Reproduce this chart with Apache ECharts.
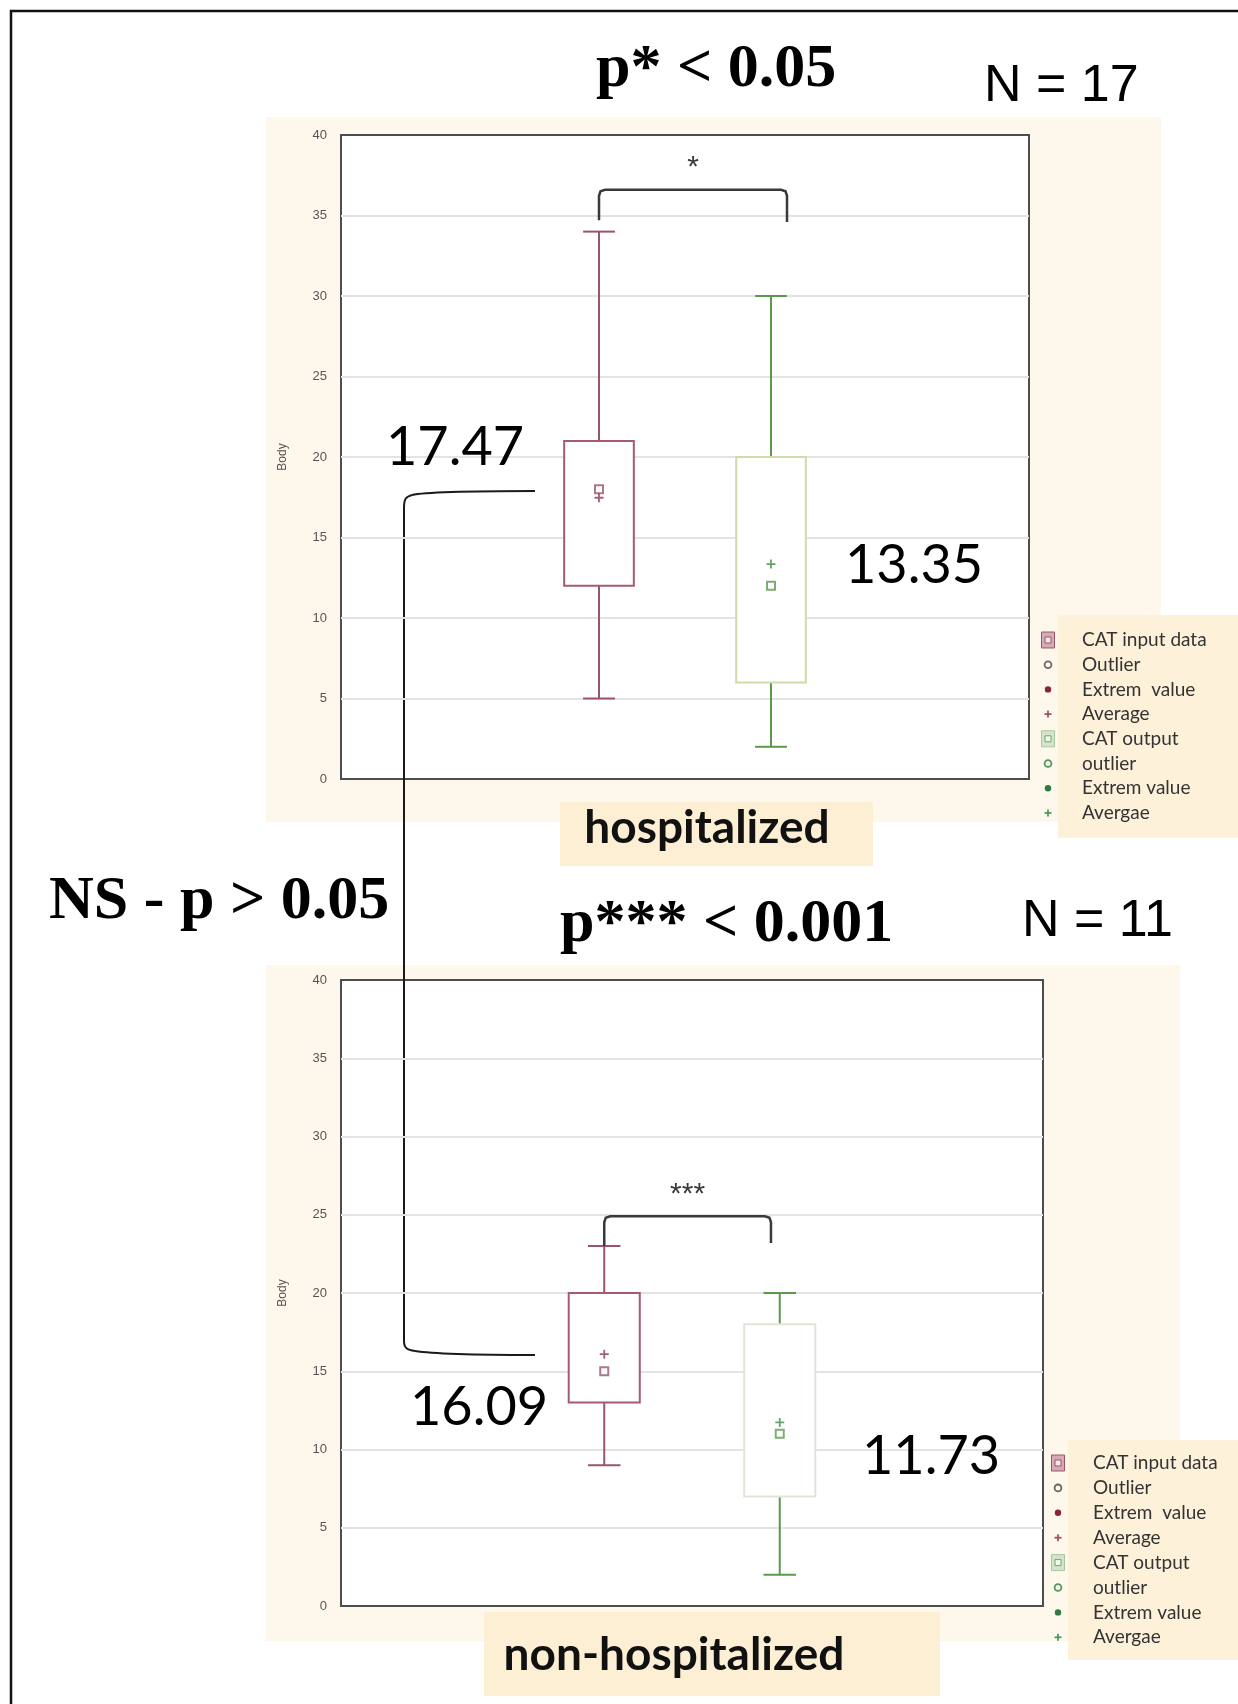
<!DOCTYPE html>
<html><head><meta charset="utf-8">
<script src="https://cdn.jsdelivr.net/npm/echarts@6/dist/echarts.min.js"></script>
<style>html,body{margin:0;padding:0;background:#fff}#c{width:1238px;height:1704px}</style>
</head><body><div id="c"></div>
<script>
// ---------- data ----------
const categories = ['', 'CAT input', 'CAT output', ''];
const yTickStep = 5;
// [categoryIndex, min, Q1, median, Q3, max]
const hospInput = [1, 5, 12, 18, 21, 34];
const hospOutput = [2, 2, 6, 12, 20, 30];
const hospMeans = [17.47, 13.35];
const nonhospInput = [1, 9, 13, 15, 20, 23];
const nonhospOutput = [2, 2, 7, 11, 18, 20];
const nonhospMeans = [16.09, 11.73];
// [fromCategory, toCategory, leftLegValue, topValue, rightLegValue]
const hospBracket = [1, 2, 34.7, 36.6, 34.6];
const nonhospBracket = [1, 2, 23.0, 24.9, 23.2];
const hospStars = '*';
const nonhospStars = '***';
const legendLabels = ['CAT input data', 'Outlier', 'Extrem  value', 'Average', 'CAT output', 'outlier', 'Extrem value', 'Avergae'];

// ---------- styles ----------
const MAROON = '#9a5566', MAROON_BOX = '#a45c6c';
const GREEN = '#5b9a4c';
const SANS = 'Lato, "Open Sans", sans-serif';
const SERIF = '"Liberation Serif", "DejaVu Serif", serif';

const chart = echarts.init(document.getElementById('c'));

function boxSeries(gi, item, whisk, boxStroke) {
  return {
    type: 'custom', xAxisIndex: gi, yAxisIndex: gi, z: 3,
    data: [item],
    encode: { x: 0, y: [1, 2, 3, 4, 5] },
    renderItem: (p, api) => {
      const x = api.value(0);
      const lo = api.coord([x, api.value(1)]);
      const q1 = api.coord([x, api.value(2)]);
      const q3 = api.coord([x, api.value(4)]);
      const hi = api.coord([x, api.value(5)]);
      const cx = lo[0];
      const band = api.size([1, 0])[0];
      const bw = band * 0.405, cw = band * 0.185;
      const ls = { stroke: whisk, lineWidth: 2 };
      return { type: 'group', children: [
        { type: 'line', shape: { x1: cx, y1: hi[1], x2: cx, y2: q3[1] }, style: ls },
        { type: 'line', shape: { x1: cx, y1: q1[1], x2: cx, y2: lo[1] }, style: ls },
        { type: 'line', shape: { x1: cx - cw / 2, y1: hi[1], x2: cx + cw / 2, y2: hi[1] }, style: ls },
        { type: 'line', shape: { x1: cx - cw / 2, y1: lo[1], x2: cx + cw / 2, y2: lo[1] }, style: ls },
        { type: 'rect', shape: { x: cx - bw / 2, y: q3[1], width: bw, height: q1[1] - q3[1] },
          style: { fill: '#fff', stroke: boxStroke, lineWidth: 2 } }
      ]};
    }
  };
}

function bracketSeries(gi, br, rightOffset, stars, starGap) {
  return {
    type: 'custom', xAxisIndex: gi, yAxisIndex: gi, z: 4,
    data: [br],
    renderItem: (p, api) => {
      const band = api.size([1, 0])[0];
      const a = api.coord([api.value(0), api.value(2)]);
      const t = api.coord([api.value(0), api.value(3)]);
      const b0 = api.coord([api.value(1), api.value(4)]);
      const x1 = a[0], x2 = b0[0] + rightOffset * band, yt = t[1];
      const r = 6;
      return { type: 'group', children: [
        { type: 'polyline', shape: { points: [[x1, a[1]], [x1, yt + r], [x1 + 1.5, yt + 1.5], [x1 + r, yt], [x2 - r, yt], [x2 - 1.5, yt + 1.5], [x2, yt + r], [x2, b0[1]]] },
          style: { stroke: '#3a3a3a', lineWidth: 2.5, fill: null } },
        { type: 'text', x: (x1 + x2) / 2, y: yt - starGap,
          style: { text: stars, fontSize: 30, fontFamily: '"Liberation Sans", sans-serif', fill: '#3a3a3a', align: 'center', verticalAlign: 'middle' } }
      ]};
    }
  };
}

const plusPath = 'path://M3.2,0H4.8V3.2H8V4.8H4.8V8H3.2V4.8H0V3.2H3.2Z';
function markerSeries(gi, inp, out, means) {
  return [
    { type: 'scatter', xAxisIndex: gi, yAxisIndex: gi, z: 5, symbol: 'rect', symbolSize: 8,
      data: [
        { value: [inp[0], inp[3]], itemStyle: { color: '#fff', borderColor: MAROON, borderWidth: 2 } },
        { value: [out[0], out[3]], itemStyle: { color: '#fff', borderColor: GREEN, borderWidth: 2 } }
      ] },
    { type: 'scatter', xAxisIndex: gi, yAxisIndex: gi, z: 6, symbol: plusPath, symbolSize: 9,
      data: [
        { value: [inp[0], means[0]], itemStyle: { color: '#8a3a4c' } },
        { value: [out[0], means[1]], itemStyle: { color: '#3f8f3f' } }
      ] }
  ];
}

function yAxisOpt(gi) {
  return {
    gridIndex: gi, type: 'value', min: 0, max: 40, interval: yTickStep,
    name: 'Body', nameLocation: 'middle', nameGap: 52, nameRotate: 90,
    nameTextStyle: { fontSize: 12, color: '#555', fontFamily: '"Liberation Sans", sans-serif' },
    axisLine: { show: false }, axisTick: { show: false },
    axisLabel: { fontSize: 13, color: '#555', margin: 14, fontFamily: '"Liberation Sans", sans-serif' },
    splitLine: { showMinLine: false, showMaxLine: false, lineStyle: { color: '#e3e3e3', width: 2 } }
  };
}
function xAxisOpt(gi) {
  return { gridIndex: gi, type: 'category', data: categories,
    axisLine: { show: false }, axisTick: { show: false }, axisLabel: { show: false }, splitLine: { show: false } };
}

// ---------- graphic annotations ----------
function txt(text, x, y, size, font, weight, align, color) {
  return { type: 'text', x: x, y: y, z: 50,
    style: { text: text, fontSize: size, fontFamily: font, fontWeight: weight || 'normal',
      fill: color || '#000', align: align || 'left', verticalAlign: 'middle' } };
}
function legendBlock(bx, by, bw, bh, iconX, textX, y0, dy) {
  const els = [{ type: 'rect', z: -5, shape: { x: bx, y: by, width: bw, height: bh }, style: { fill: '#fdf1da' } }];
  const plus = (c) => ({ type: 'group', children: [
      { type: 'line', shape: { x1: -3.5, y1: 0, x2: 3.5, y2: 0 }, style: { stroke: c, lineWidth: 1.8 } },
      { type: 'line', shape: { x1: 0, y1: -3.5, x2: 0, y2: 3.5 }, style: { stroke: c, lineWidth: 1.8 } }] });
  const sq = (f, s, fi, si) => ({ type: 'group', children: [
      { type: 'rect', shape: { x: -6.5, y: -8, width: 13, height: 16 }, style: { fill: f, stroke: s, lineWidth: 1 } },
      { type: 'rect', shape: { x: -3, y: -3, width: 6, height: 6 }, style: { fill: fi, stroke: si, lineWidth: 1 } }] });
  const icons = [
    () => sq('#d6aab4', '#9a5566', '#f4e6ea', '#9a5566'),
    () => ({ type: 'circle', shape: { cx: 0, cy: 0, r: 3.4 }, style: { fill: null, stroke: '#6f6268', lineWidth: 1.8 } }),
    () => ({ type: 'circle', shape: { cx: 0, cy: 0, r: 3.2 }, style: { fill: '#8a2438' } }),
    () => plus('#9a5566'),
    () => sq('#d4e4cc', '#a9c8a0', '#f4faf0', '#6aa86a'),
    () => ({ type: 'circle', shape: { cx: 0, cy: 0, r: 3.4 }, style: { fill: null, stroke: '#4f9a5c', lineWidth: 1.8 } }),
    () => ({ type: 'circle', shape: { cx: 0, cy: 0, r: 3.2 }, style: { fill: '#2f7a3e' } }),
    () => plus('#4f9a5c')
  ];
  legendLabels.forEach((lab, i) => {
    const y = y0 + i * dy;
    const ic = icons[i]();
    ic.x = iconX; ic.y = y; ic.z = 40;
    els.push(ic);
    els.push(txt(lab, textX, y, 19, SANS, 'normal', 'left', '#333'));
  });
  return els;
}

const connStyle = { fill: null, stroke: '#1a1a1a', lineWidth: 2 };
const connector = { type: 'group', z: 45, children: [
  { type: 'bezierCurve', shape: { x1: 535, y1: 491, cpx1: 470, cpy1: 491, cpx2: 425, cpy2: 492, x2: 412, y2: 495 }, style: connStyle },
  { type: 'bezierCurve', shape: { x1: 412, y1: 495, cpx1: 405, cpy1: 497, cpx2: 404, cpy2: 500, x2: 404, y2: 508 }, style: connStyle },
  { type: 'line', shape: { x1: 404, y1: 508, x2: 404, y2: 1341 }, style: connStyle },
  { type: 'bezierCurve', shape: { x1: 404, y1: 1341, cpx1: 404, cpy1: 1348, cpx2: 407, cpy2: 1350, x2: 415, y2: 1351 }, style: connStyle },
  { type: 'bezierCurve', shape: { x1: 415, y1: 1351, cpx1: 440, cpy1: 1355, cpx2: 490, cpy2: 1355, x2: 535, y2: 1355 }, style: connStyle }
] };

const graphics = [
  // light beige backdrops behind the two plots
  { type: 'rect', z: -10, shape: { x: 266, y: 117, width: 895, height: 705 }, style: { fill: '#fef7ec' } },
  { type: 'rect', z: -10, shape: { x: 266, y: 965, width: 914, height: 676 }, style: { fill: '#fef7ec' } },
  // outer frame
  { type: 'rect', z: 60, shape: { x: 11, y: 11, width: 1240, height: 1710 }, style: { fill: null, stroke: '#111', lineWidth: 2.5 } },
  // category label boxes
  { type: 'rect', z: -5, shape: { x: 560, y: 802, width: 313, height: 64 }, style: { fill: '#fcefd4' } },
  { type: 'rect', z: -5, shape: { x: 484, y: 1612, width: 456, height: 84 }, style: { fill: '#fcefd4' } },
  txt('hospitalized', 707, 828, 46, SANS, 'bold', 'center', '#111'),
  txt('non-hospitalized', 674, 1655, 46, SANS, 'bold', 'center', '#111'),
  // headings
  txt('p* < 0.05', 596, 70, 62, SERIF, 'bold', 'left', '#000'),
  txt('N = 17', 984, 87, 52, '"Liberation Sans", sans-serif', 'normal', 'left', '#000'),
  txt('NS - p > 0.05', 49, 902, 62, SERIF, 'bold', 'left', '#000'),
  txt('p*** < 0.001', 560, 925, 62, SERIF, 'bold', 'left', '#000'),
  txt('N = 11', 1022, 922, 52, '"Liberation Sans", sans-serif', 'normal', 'left', '#000'),
  // mean value callouts
  txt(String(hospMeans[0]), 386, 448, 54, SANS, 'normal', 'left', '#000'),
  txt(String(hospMeans[1]), 845, 566, 54, SANS, 'normal', 'left', '#000'),
  txt(String(nonhospMeans[0]), 410, 1408, 54, SANS, 'normal', 'left', '#000'),
  txt(String(nonhospMeans[1]), 862, 1457, 54, SANS, 'normal', 'left', '#000'),
  connector
].concat(
  legendBlock(1058, 615, 180, 223, 1048, 1082, 640, 24.7),
  legendBlock(1068, 1440, 170, 220, 1058, 1093, 1463, 24.9)
);

chart.setOption({
  backgroundColor: '#fff',
  animation: false,
  grid: [
    { left: 341, top: 135, width: 688, height: 644, show: true, backgroundColor: '#fff', borderColor: '#4d4d4d', borderWidth: 2 },
    { left: 341, top: 980, width: 702, height: 626, show: true, backgroundColor: '#fff', borderColor: '#4d4d4d', borderWidth: 2 }
  ],
  xAxis: [xAxisOpt(0), xAxisOpt(1)],
  yAxis: [yAxisOpt(0), yAxisOpt(1)],
  graphic: graphics,
  series: [
    boxSeries(0, hospInput, MAROON, MAROON_BOX),
    boxSeries(0, hospOutput, GREEN, '#cfdcaa'),
    boxSeries(1, nonhospInput, MAROON, MAROON_BOX),
    boxSeries(1, nonhospOutput, GREEN, '#e1e5d9'),
    bracketSeries(0, hospBracket, 0.093, hospStars, 22),
    bracketSeries(1, nonhospBracket, -0.05, nonhospStars, 22)
  ].concat(markerSeries(0, hospInput, hospOutput, hospMeans), markerSeries(1, nonhospInput, nonhospOutput, nonhospMeans))
});
</script>
</body></html>
